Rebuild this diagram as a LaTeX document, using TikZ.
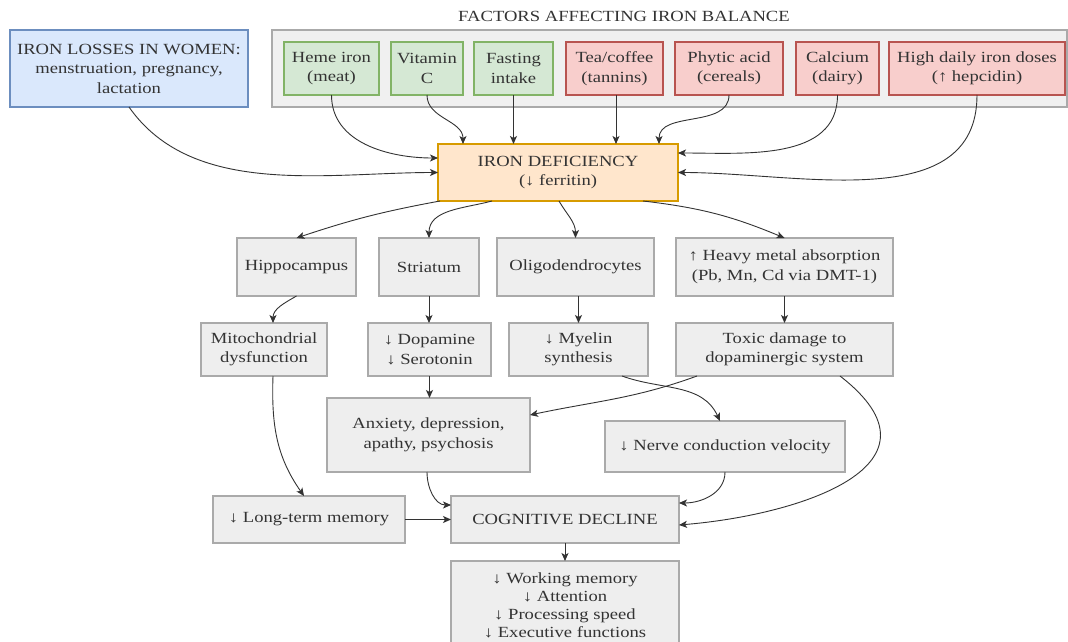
\documentclass[tikz,border=0pt]{standalone}
\usepackage{fontspec}
\setmainfont{Liberation Serif}[FakeStretch=1.2]
\usetikzlibrary{arrows.meta}
\definecolor{boxfill}{HTML}{EEEEEE}
\definecolor{boxline}{HTML}{AAAAAA}
\definecolor{grpfill}{HTML}{F0F0F0}
\definecolor{gfill}{HTML}{D5E8D4}
\definecolor{gline}{HTML}{82B366}
\definecolor{rfill}{HTML}{F8CECC}
\definecolor{rline}{HTML}{B85450}
\definecolor{bfill}{HTML}{DAE8FC}
\definecolor{bline}{HTML}{6C8EBF}
\definecolor{ofill}{HTML}{FFE6CC}
\definecolor{oline}{HTML}{D79B00}
\definecolor{txt}{HTML}{333333}
\definecolor{arrc}{HTML}{333333}
\begin{document}
\begin{tikzpicture}[x=1pt,y=1pt,
  box/.style={draw=boxline, fill=boxfill, line width=1.5pt, inner sep=0pt, outer sep=0pt,
    align=center, text=txt, font=\fontsize{15.5}{19.5}\selectfont},
  gbox/.style={box, draw=gline, fill=gfill},
  rbox/.style={box, draw=rline, fill=rfill},
  bbox/.style={box, draw=bline, fill=bfill},
  obox/.style={box, draw=oline, fill=ofill},
  grp/.style={box, fill=grpfill},
  arr/.style={draw=arrc, line width=0.9pt, -{Stealth[length=8pt,width=7pt,inset=2pt]}},
  sz/.style 2 args={minimum width=#1pt, minimum height=#2pt}
]
\useasboundingbox (0,0) rectangle (1068,-642);
\fill[white] (0,0) rectangle (1068,-642);

% top
\node[text=txt, font=\fontsize{15.5}{19.5}\selectfont] (title) at (624,-16) {FACTORS AFFECTING IRON BALANCE};
\node[grp, sz={795}{77}] (group) at (669.5,-68.5) {};
\node[bbox, sz={238}{77}] (women) at (129,-68.5) {IRON LOSSES IN WOMEN:\\menstruation, pregnancy,\\lactation};
\node[gbox, sz={95}{53}] (heme) at (331.5,-68.5) {Heme iron\\(meat)};
\node[gbox, sz={72}{53}] (vitc) at (427,-68.5) {Vitamin\\C};
\node[gbox, sz={79}{53}] (fast) at (513.5,-68.5) {Fasting\\intake};
\node[rbox, sz={97}{53}] (tea) at (614.5,-68.5) {Tea/coffee\\(tannins)};
\node[rbox, sz={108}{53}] (phytic) at (729,-68.5) {Phytic acid\\(cereals)};
\node[rbox, sz={83}{53}] (calc) at (837.5,-68.5) {Calcium\\(dairy)};
\node[rbox, sz={176}{53}] (high) at (977,-68.5) {High daily iron doses\\(↑ hepcidin)};

\node[obox, sz={240}{57}] (id) at (558,-172.5) {IRON DEFICIENCY\\(↓ ferritin)};

% row 2
\node[box, sz={119}{58}] (hippo) at (296.5,-267) {Hippocampus};
\node[box, sz={100}{58}] (stri) at (429,-267) {Striatum};
\node[box, sz={157}{58}] (oligo) at (575.5,-267) {Oligodendrocytes};
\node[box, sz={217}{58}] (heavy) at (784.5,-267) {↑ Heavy metal absorption\\(Pb, Mn, Cd via DMT-1)};

% row 3
\node[box, sz={126}{53}] (mito) at (264,-349.5) {Mitochondrial\\dysfunction};
\node[box, sz={123}{53}] (dopa) at (429.5,-349.5) {↓ Dopamine\\↓ Serotonin};
\node[box, sz={139}{53}] (myel) at (578.5,-349.5) {↓ Myelin\\synthesis};
\node[box, sz={217}{53}] (toxic) at (784.5,-349.5) {Toxic damage to\\dopaminergic system};

% row 4
\node[box, sz={203}{74}] (anx) at (428.5,-435) {Anxiety, depression,\\apathy, psychosis};
\node[box, sz={240}{51}] (nerve) at (725,-446.5) {↓ Nerve conduction velocity};

% row 5
\node[box, sz={192}{47}] (ltm) at (309,-519.5) {↓ Long-term memory};
\node[box, sz={228}{47}] (cog) at (565,-519.5) {COGNITIVE DECLINE};
\node[box, sz={228}{89}, font=\fontsize{15.5}{18}\selectfont] (out) at (565,-605.5) {↓ Working memory\\↓ Attention\\↓ Processing speed\\↓ Executive functions};

% edges into iron deficiency
\draw[arr] (women.south) to[out=-55, in=180, looseness=0.9] (id.west);
\draw[arr] (heme.south) to[out=-90, in=180] ([yshift=14.5pt]id.west);
\draw[arr] (vitc.south) to[out=-90, in=90] ([xshift=25pt]id.north west);
\draw[arr] (fast.south) -- (fast.south |- id.north);
\draw[arr] ([xshift=1.5pt]tea.south) -- ([xshift=1.5pt]tea.south |- id.north);
\draw[arr] (phytic.south) to[out=-90, in=90] ([xshift=-19pt]id.north east);
\draw[arr] (calc.south) to[out=-90, in=0] ([yshift=19.5pt]id.east);
\draw[arr] (high.south) to[out=-90, in=0] (id.east);

% edges out of iron deficiency
\draw[arr] ([xshift=2pt]id.south west) to[bend right=4] (hippo.north);
\draw[arr] ([xshift=54pt]id.south west) to[out=195, in=90] (stri.north);
\draw[arr] ([xshift=121pt]id.south west) to[out=-60, in=90] (oligo.north);
\draw[arr] ([xshift=205pt]id.south west) to[bend left=8] (heavy.north);

% row 2 -> row 3
\draw[arr] (hippo.south) to[out=210, in=90] ([xshift=9pt]mito.north);
\draw[arr] (stri.south) -- (stri.south |- dopa.north);
\draw[arr] (myel.north |- oligo.south) -- (myel.north);
\draw[arr] (heavy.south) -- (toxic.north);

% row 3 -> lower
\draw[arr] (dopa.north |- dopa.south) -- (dopa.north |- anx.north);
\draw[arr] ([xshift=21pt]toxic.south west) to[out=200, in=12] ([yshift=20pt]anx.east);
\draw[arr] ([xshift=113pt]myel.south west) to[out=-20, in=115] ([xshift=-5pt]nerve.north);
\draw[arr] ([xshift=9pt]mito.south) to[out=-92, in=125] ([xshift=-5pt]ltm.north);
\draw[arr] ([xshift=-53pt]toxic.south east) .. controls (955,-465) and (800,-515) .. ([yshift=-5.5pt]cog.east);

% into cognitive decline
\draw[arr] ([xshift=-1.5pt]anx.south) to[out=-90, in=180] ([yshift=-9pt]cog.north west);
\draw[arr] (nerve.south) to[out=-90, in=0] ([yshift=-7pt]cog.north east);
\draw[arr] (ltm.east) -- (cog.west);
\draw[arr] (cog.south) -- (out.north);
\end{tikzpicture}
\end{document}
